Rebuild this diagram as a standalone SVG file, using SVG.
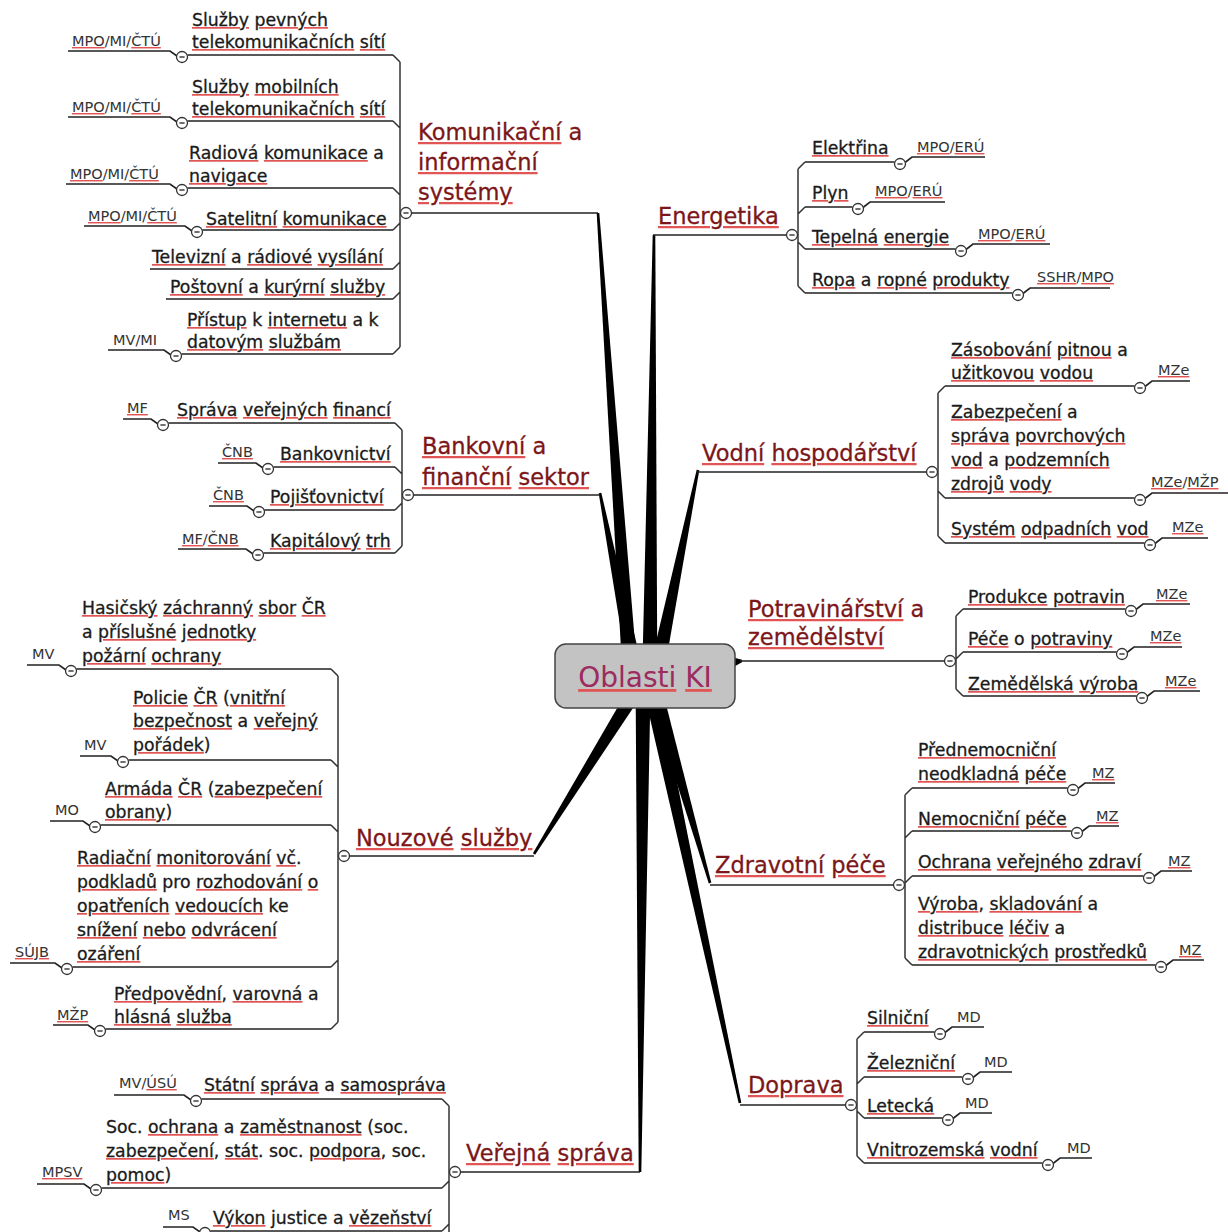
<svg xmlns="http://www.w3.org/2000/svg" width="1228" height="1232" viewBox="0 0 1228 1232">
<defs>
<style>
.t{font-family:"DejaVu Sans",sans-serif;font-size:17.3px;fill:#1a1a1a;stroke:#1a1a1a;stroke-width:0.3}
.mt{font-family:"DejaVu Sans",sans-serif;font-size:22.5px;fill:#7c1619;stroke:#7c1619;stroke-width:0.3}
.lb{font-family:"DejaVu Sans",sans-serif;font-size:14.5px;fill:#333}
.ctr{font-family:"DejaVu Sans",sans-serif;font-size:28px;fill:#9c2b5f}
.s{fill:#e25555;stroke:none;text-decoration:underline;text-decoration-thickness:2px;text-underline-offset:3px}
.t .s tspan{fill:#1a1a1a;stroke:#1a1a1a}
.mt .s tspan{fill:#7c1619;stroke:#7c1619}
.lb .s tspan{fill:#333}
.ctr .s tspan{fill:#9c2b5f}
.u{fill:none;stroke:#222;stroke-width:1.6}
.c{fill:none;stroke:#333;stroke-width:1.5}
.spoke{fill:#000}
</style>
<g id="mk"><circle r="5.5" fill="#fff" stroke="#333" stroke-width="1.3"/><path d="M-2.6 0h5.2" stroke="#333" stroke-width="1.4"/></g>
</defs>
<rect width="1228" height="1232" fill="#fff"/>

<!-- connectors: tapered spokes from the centre and sub-branch brackets -->
<g id="connectors">
  <polygon class="spoke" points="637.2,669.5 599.3,212.9 596.7,213.1 622.2,670.5"/>
  <polygon class="spoke" points="657.3,670.1 655.3,235 652.7,235 642.3,669.9"/>
  <polygon class="spoke" points="642.4,668.5 601.3,492.7 598.7,493.3 627.6,671.5"/>
  <polygon class="spoke" points="664.3,671.5 699.3,470.3 696.7,469.7 649.7,668.5"/>
  <polygon class="spoke" points="728,656 742,659.8 742,662.2 728,670"/>
  <polygon class="spoke" points="632.9,681 532.9,853.3 535.1,854.7 645.7,689"/>
  <polygon class="spoke" points="646.2,687.1 708.8,883.4 711.3,882.6 660.6,682.9"/>
  <polygon class="spoke" points="642.7,686.6 738.7,1103.3 741.3,1102.7 657.3,683.4"/>
  <polygon class="spoke" points="635.6,685 638.7,1172 641.3,1172 650.6,685"/>

  <path class="c" d="M400 62V347M393 55L400 62M393 121L400 128M393 188L400 195M393 230L400 223M393 269L400 262M393 299L400 292M393 354L400 347"/>
  <path class="c" d="M798 169V286M798 169L805 162M798 214L805 207M798 242L805 249M798 286L805 293"/>
  <path class="c" d="M402 430V546M395 423L402 430M395 467L402 474M395 510L402 503M395 553L402 546"/>
  <path class="c" d="M938 393V536M938 393L945 386M938 491L945 498M938 536L945 543"/>
  <path class="c" d="M956 616V689M956 616L963 609M956 659L963 652M956 689L963 696"/>
  <path class="c" d="M338 676V1022M331 669L338 676M331 760L338 767M331 825L338 832M331 967L338 960M331 1029L338 1022"/>
  <path class="c" d="M905 795V958M905 795L912 788M905 838L912 831M905 883L912 876M905 958L912 965"/>
  <path class="c" d="M857 1039V1156M857 1039L864 1032M857 1084L864 1077M857 1111L864 1118M857 1156L864 1163"/>
  <path class="c" d="M449 1106V1240M442 1099L449 1106M442 1188L449 1181M442 1231L449 1224"/>
</g>

<!-- central node -->
<g id="oblasti-ki">
  <rect x="555" y="644" width="180" height="64" rx="11" fill="#c3c3c3" stroke="#444" stroke-width="1.5"/>
  <text class="ctr" x="645" y="687" text-anchor="middle"><tspan class="s"><tspan>Oblasti</tspan></tspan> <tspan class="s"><tspan>KI</tspan></tspan></text>
</g>

<!-- Komunikační a informační systémy -->
<g id="komunikacni">
  <text class="mt" x="418" y="140"><tspan class="s"><tspan>Komunikační</tspan></tspan> a</text>
  <text class="mt" x="418" y="170"><tspan class="s"><tspan>informační</tspan></tspan></text>
  <text class="mt" x="418" y="200"><tspan class="s"><tspan>systémy</tspan></tspan></text>
  <path class="u" d="M411.5 213H598"/>
  <use href="#mk" x="406" y="213"/>
  <g id="k-pevne">
    <text class="t" x="192" y="26"><tspan class="s"><tspan>Služby</tspan></tspan> <tspan class="s"><tspan>pevných</tspan></tspan></text>
    <text class="t" x="192" y="48"><tspan class="s"><tspan>telekomunikačních</tspan></tspan> <tspan class="s"><tspan>sítí</tspan></tspan></text>
    <path class="u" d="M187.5 55H393M68 51H170L177 56"/>
    <use href="#mk" x="182" y="57"/>
    <text class="lb" x="72" y="46"><tspan class="s"><tspan>MPO</tspan></tspan>/MI/<tspan class="s"><tspan>ČTÚ</tspan></tspan></text>
  </g>
  <g id="k-mobilni">
    <text class="t" x="192" y="93"><tspan class="s"><tspan>Služby</tspan></tspan> <tspan class="s"><tspan>mobilních</tspan></tspan></text>
    <text class="t" x="192" y="115"><tspan class="s"><tspan>telekomunikačních</tspan></tspan> <tspan class="s"><tspan>sítí</tspan></tspan></text>
    <path class="u" d="M187.5 121H393M68 117H170L177 122"/>
    <use href="#mk" x="182" y="123"/>
    <text class="lb" x="72" y="112"><tspan class="s"><tspan>MPO</tspan></tspan>/MI/<tspan class="s"><tspan>ČTÚ</tspan></tspan></text>
  </g>
  <g id="k-radio">
    <text class="t" x="189" y="159"><tspan class="s"><tspan>Radiová</tspan></tspan> <tspan class="s"><tspan>komunikace</tspan></tspan> a</text>
    <text class="t" x="189" y="182"><tspan class="s"><tspan>navigace</tspan></tspan></text>
    <path class="u" d="M187.5 188H393M66 184H170L177 189"/>
    <use href="#mk" x="182" y="190"/>
    <text class="lb" x="70" y="179"><tspan class="s"><tspan>MPO</tspan></tspan>/MI/<tspan class="s"><tspan>ČTÚ</tspan></tspan></text>
  </g>
  <g id="k-satelit">
    <text class="t" x="206" y="225"><tspan class="s"><tspan>Satelitní</tspan></tspan> <tspan class="s"><tspan>komunikace</tspan></tspan></text>
    <path class="u" d="M202.5 230H393M84 226H185L192 231"/>
    <use href="#mk" x="197" y="232"/>
    <text class="lb" x="88" y="221"><tspan class="s"><tspan>MPO</tspan></tspan>/MI/<tspan class="s"><tspan>ČTÚ</tspan></tspan></text>
  </g>
  <g id="k-televize">
    <text class="t" x="152" y="263"><tspan class="s"><tspan>Televizní</tspan></tspan> a <tspan class="s"><tspan>rádiové</tspan></tspan> <tspan class="s"><tspan>vysílání</tspan></tspan></text>
    <path class="u" d="M150 269H393"/>
  </g>
  <g id="k-posta">
    <text class="t" x="170" y="293"><tspan class="s"><tspan>Poštovní</tspan></tspan> a <tspan class="s"><tspan>kurýrní</tspan></tspan> <tspan class="s"><tspan>služby</tspan></tspan></text>
    <path class="u" d="M166 299H393"/>
  </g>
  <g id="k-internet">
    <text class="t" x="187" y="326"><tspan class="s"><tspan>Přístup</tspan></tspan> k <tspan class="s"><tspan>internetu</tspan></tspan> a k</text>
    <text class="t" x="187" y="348"><tspan class="s"><tspan>datovým</tspan></tspan> <tspan class="s"><tspan>službám</tspan></tspan></text>
    <path class="u" d="M181.5 354H393M108 350H164L171 355"/>
    <use href="#mk" x="176" y="356"/>
    <text class="lb" x="113" y="345">MV/MI</text>
  </g>
</g>

<!-- Energetika -->
<g id="energetika">
  <text class="mt" x="658" y="224"><tspan class="s"><tspan>Energetika</tspan></tspan></text>
  <path class="u" d="M653 235H786.5"/>
  <use href="#mk" x="792" y="235"/>
  <g id="e-elektrina">
    <text class="t" x="812" y="154"><tspan class="s"><tspan>Elektřina</tspan></tspan></text>
    <path class="u" d="M805 162H894.5M905 162.5L912 157H985"/>
    <use href="#mk" x="900" y="164"/>
    <text class="lb" x="917" y="152"><tspan class="s"><tspan>MPO</tspan></tspan>/<tspan class="s"><tspan>ERÚ</tspan></tspan></text>
  </g>
  <g id="e-plyn">
    <text class="t" x="812" y="199"><tspan class="s"><tspan>Plyn</tspan></tspan></text>
    <path class="u" d="M805 207H852.5M863 207.5L870 202H945"/>
    <use href="#mk" x="858" y="209"/>
    <text class="lb" x="875" y="196"><tspan class="s"><tspan>MPO</tspan></tspan>/<tspan class="s"><tspan>ERÚ</tspan></tspan></text>
  </g>
  <g id="e-teplo">
    <text class="t" x="812" y="243"><tspan class="s"><tspan>Tepelná</tspan></tspan> <tspan class="s"><tspan>energie</tspan></tspan></text>
    <path class="u" d="M805 249H955.5M966 249.5L973 244H1050"/>
    <use href="#mk" x="961" y="251"/>
    <text class="lb" x="978" y="239"><tspan class="s"><tspan>MPO</tspan></tspan>/<tspan class="s"><tspan>ERÚ</tspan></tspan></text>
  </g>
  <g id="e-ropa">
    <text class="t" x="812" y="286"><tspan class="s"><tspan>Ropa</tspan></tspan> a <tspan class="s"><tspan>ropné</tspan></tspan> <tspan class="s"><tspan>produkty</tspan></tspan></text>
    <path class="u" d="M805 293H1012.5M1023 293.5L1030 288H1110"/>
    <use href="#mk" x="1018" y="295"/>
    <text class="lb" x="1037" y="282"><tspan class="s"><tspan>SSHR</tspan></tspan>/<tspan class="s"><tspan>MPO</tspan></tspan></text>
  </g>
</g>

<!-- Bankovní a finanční sektor -->
<g id="bankovni">
  <text class="mt" x="422" y="454"><tspan class="s"><tspan>Bankovní</tspan></tspan> a</text>
  <text class="mt" x="422" y="485"><tspan class="s"><tspan>finanční</tspan></tspan> <tspan class="s"><tspan>sektor</tspan></tspan></text>
  <path class="u" d="M413.5 495H600"/>
  <use href="#mk" x="408" y="495"/>
  <g id="b-verejne">
    <text class="t" x="177" y="416"><tspan class="s"><tspan>Správa</tspan></tspan> <tspan class="s"><tspan>veřejných</tspan></tspan> <tspan class="s"><tspan>financí</tspan></tspan></text>
    <path class="u" d="M168.5 423H395M123 419H151L158 424"/>
    <use href="#mk" x="163" y="425"/>
    <text class="lb" x="127" y="413"><tspan class="s"><tspan>MF</tspan></tspan></text>
  </g>
  <g id="b-bankovnictvi">
    <text class="t" x="280" y="460"><tspan class="s"><tspan>Bankovnictví</tspan></tspan></text>
    <path class="u" d="M273.5 467H395M218 463H256L263 468"/>
    <use href="#mk" x="268" y="469"/>
    <text class="lb" x="222" y="457"><tspan class="s"><tspan>ČNB</tspan></tspan></text>
  </g>
  <g id="b-pojistovnictvi">
    <text class="t" x="270" y="503"><tspan class="s"><tspan>Pojišťovnictví</tspan></tspan></text>
    <path class="u" d="M264.5 510H395M209 506H247L254 511"/>
    <use href="#mk" x="259" y="512"/>
    <text class="lb" x="213" y="500"><tspan class="s"><tspan>ČNB</tspan></tspan></text>
  </g>
  <g id="b-kapital">
    <text class="t" x="270" y="547"><tspan class="s"><tspan>Kapitálový</tspan></tspan> <tspan class="s"><tspan>trh</tspan></tspan></text>
    <path class="u" d="M263.5 553H395M178 549H246L253 554"/>
    <use href="#mk" x="258" y="555"/>
    <text class="lb" x="182" y="544"><tspan class="s"><tspan>MF</tspan></tspan>/<tspan class="s"><tspan>ČNB</tspan></tspan></text>
  </g>
</g>

<!-- Vodní hospodářství -->
<g id="vodni">
  <text class="mt" x="702" y="461"><tspan class="s"><tspan>Vodní</tspan></tspan> <tspan class="s"><tspan>hospodářství</tspan></tspan></text>
  <path class="u" d="M697 472H926.5"/>
  <use href="#mk" x="932" y="472"/>
  <g id="v-zasobovani">
    <text class="t" x="951" y="356"><tspan class="s"><tspan>Zásobování</tspan></tspan> <tspan class="s"><tspan>pitnou</tspan></tspan> a</text>
    <text class="t" x="951" y="379"><tspan class="s"><tspan>užitkovou</tspan></tspan> <tspan class="s"><tspan>vodou</tspan></tspan></text>
    <path class="u" d="M945 386H1134.5M1145 386.5L1152 381H1190"/>
    <use href="#mk" x="1140" y="388"/>
    <text class="lb" x="1158" y="375"><tspan class="s"><tspan>MZe</tspan></tspan></text>
  </g>
  <g id="v-zabezpeceni">
    <text class="t" x="951" y="418"><tspan class="s"><tspan>Zabezpečení</tspan></tspan> a</text>
    <text class="t" x="951" y="442"><tspan class="s"><tspan>správa</tspan></tspan> <tspan class="s"><tspan>povrchových</tspan></tspan></text>
    <text class="t" x="951" y="466"><tspan class="s"><tspan>vod</tspan></tspan> a <tspan class="s"><tspan>podzemních</tspan></tspan></text>
    <text class="t" x="951" y="490"><tspan class="s"><tspan>zdrojů</tspan></tspan> <tspan class="s"><tspan>vody</tspan></tspan></text>
    <path class="u" d="M945 498H1134.5M1145 498.5L1152 493H1228"/>
    <use href="#mk" x="1140" y="500"/>
    <text class="lb" x="1151" y="487"><tspan class="s"><tspan>MZe</tspan></tspan>/<tspan class="s"><tspan>MŽP</tspan></tspan></text>
  </g>
  <g id="v-odpadni">
    <text class="t" x="951" y="535"><tspan class="s"><tspan>Systém</tspan></tspan> <tspan class="s"><tspan>odpadních</tspan></tspan> <tspan class="s"><tspan>vod</tspan></tspan></text>
    <path class="u" d="M945 543H1144.5M1155 543.5L1162 538H1208"/>
    <use href="#mk" x="1150" y="545"/>
    <text class="lb" x="1172" y="532"><tspan class="s"><tspan>MZe</tspan></tspan></text>
  </g>
</g>

<!-- Potravinářství a zemědělství -->
<g id="potravinarstvi">
  <text class="mt" x="748" y="617"><tspan class="s"><tspan>Potravinářství</tspan></tspan> a</text>
  <text class="mt" x="748" y="645"><tspan class="s"><tspan>zemědělství</tspan></tspan></text>
  <path class="u" d="M740 661H944.5"/>
  <use href="#mk" x="950" y="661"/>
  <g id="p-produkce">
    <text class="t" x="968" y="603"><tspan class="s"><tspan>Produkce</tspan></tspan> <tspan class="s"><tspan>potravin</tspan></tspan></text>
    <path class="u" d="M963 609H1125.5M1136 609.5L1143 604H1190"/>
    <use href="#mk" x="1131" y="611"/>
    <text class="lb" x="1156" y="599"><tspan class="s"><tspan>MZe</tspan></tspan></text>
  </g>
  <g id="p-pece">
    <text class="t" x="968" y="645"><tspan class="s"><tspan>Péče</tspan></tspan> o <tspan class="s"><tspan>potraviny</tspan></tspan></text>
    <path class="u" d="M963 652H1116.5M1127 652.5L1134 647H1182"/>
    <use href="#mk" x="1122" y="654"/>
    <text class="lb" x="1150" y="641"><tspan class="s"><tspan>MZe</tspan></tspan></text>
  </g>
  <g id="p-vyroba">
    <text class="t" x="968" y="690"><tspan class="s"><tspan>Zemědělská</tspan></tspan> <tspan class="s"><tspan>výroba</tspan></tspan></text>
    <path class="u" d="M963 696H1136.5M1147 696.5L1154 691H1200"/>
    <use href="#mk" x="1142" y="698"/>
    <text class="lb" x="1165" y="686"><tspan class="s"><tspan>MZe</tspan></tspan></text>
  </g>
</g>

<!-- Nouzové služby -->
<g id="nouzove">
  <text class="mt" x="356" y="846"><tspan class="s"><tspan>Nouzové</tspan></tspan> <tspan class="s"><tspan>služby</tspan></tspan></text>
  <path class="u" d="M349.5 856H534"/>
  <use href="#mk" x="344" y="856"/>
  <g id="n-hasici">
    <text class="t" x="82" y="614"><tspan class="s"><tspan>Hasičský</tspan></tspan> <tspan class="s"><tspan>záchranný</tspan></tspan> <tspan class="s"><tspan>sbor</tspan></tspan> <tspan class="s"><tspan>ČR</tspan></tspan></text>
    <text class="t" x="82" y="638">a <tspan class="s"><tspan>příslušné</tspan></tspan> <tspan class="s"><tspan>jednotky</tspan></tspan></text>
    <text class="t" x="82" y="662"><tspan class="s"><tspan>požární</tspan></tspan> <tspan class="s"><tspan>ochrany</tspan></tspan></text>
    <path class="u" d="M76.5 669H331M27 665H59L66 670"/>
    <use href="#mk" x="71" y="671"/>
    <text class="lb" x="32" y="659">MV</text>
  </g>
  <g id="n-policie">
    <text class="t" x="133" y="704"><tspan class="s"><tspan>Policie</tspan></tspan> <tspan class="s"><tspan>ČR</tspan></tspan> (<tspan class="s"><tspan>vnitřní</tspan></tspan></text>
    <text class="t" x="133" y="727"><tspan class="s"><tspan>bezpečnost</tspan></tspan> a <tspan class="s"><tspan>veřejný</tspan></tspan></text>
    <text class="t" x="133" y="751"><tspan class="s"><tspan>pořádek</tspan></tspan>)</text>
    <path class="u" d="M128.5 760H331M80 756H111L118 761"/>
    <use href="#mk" x="123" y="762"/>
    <text class="lb" x="84" y="750">MV</text>
  </g>
  <g id="n-armada">
    <text class="t" x="105" y="795"><tspan class="s"><tspan>Armáda</tspan></tspan> <tspan class="s"><tspan>ČR</tspan></tspan> (<tspan class="s"><tspan>zabezpečení</tspan></tspan></text>
    <text class="t" x="105" y="818"><tspan class="s"><tspan>obrany</tspan></tspan>)</text>
    <path class="u" d="M100.5 825H331M50 821H83L90 826"/>
    <use href="#mk" x="95" y="827"/>
    <text class="lb" x="55" y="815">MO</text>
  </g>
  <g id="n-radiace">
    <text class="t" x="77" y="864"><tspan class="s"><tspan>Radiační</tspan></tspan> <tspan class="s"><tspan>monitorování</tspan></tspan> <tspan class="s"><tspan>vč</tspan></tspan>.</text>
    <text class="t" x="77" y="888"><tspan class="s"><tspan>podkladů</tspan></tspan> pro <tspan class="s"><tspan>rozhodování</tspan></tspan> <tspan class="s"><tspan>o</tspan></tspan></text>
    <text class="t" x="77" y="912"><tspan class="s"><tspan>opatřeních</tspan></tspan> <tspan class="s"><tspan>vedoucích</tspan></tspan> ke</text>
    <text class="t" x="77" y="936"><tspan class="s"><tspan>snížení</tspan></tspan> <tspan class="s"><tspan>nebo</tspan></tspan> <tspan class="s"><tspan>odvrácení</tspan></tspan></text>
    <text class="t" x="77" y="960"><tspan class="s"><tspan>ozáření</tspan></tspan></text>
    <path class="u" d="M72.5 967H331M10 963H55L62 968"/>
    <use href="#mk" x="67" y="969"/>
    <text class="lb" x="15" y="957"><tspan class="s"><tspan>SÚJB</tspan></tspan></text>
  </g>
  <g id="n-predpovedi">
    <text class="t" x="114" y="1000"><tspan class="s"><tspan>Předpovědní</tspan></tspan>, <tspan class="s"><tspan>varovná</tspan></tspan> a</text>
    <text class="t" x="114" y="1023"><tspan class="s"><tspan>hlásná</tspan></tspan> <tspan class="s"><tspan>služba</tspan></tspan></text>
    <path class="u" d="M105.5 1029H331M53 1025H88L95 1030"/>
    <use href="#mk" x="100" y="1031"/>
    <text class="lb" x="57" y="1020"><tspan class="s"><tspan>MŽP</tspan></tspan></text>
  </g>
</g>

<!-- Zdravotní péče -->
<g id="zdravotni">
  <text class="mt" x="715" y="873"><tspan class="s"><tspan>Zdravotní</tspan></tspan> <tspan class="s"><tspan>péče</tspan></tspan></text>
  <path class="u" d="M710 885H893.5"/>
  <use href="#mk" x="899" y="885"/>
  <g id="z-prednemocnicni">
    <text class="t" x="918" y="756"><tspan class="s"><tspan>Přednemocniční</tspan></tspan></text>
    <text class="t" x="918" y="780"><tspan class="s"><tspan>neodkladná</tspan></tspan> <tspan class="s"><tspan>péče</tspan></tspan></text>
    <path class="u" d="M912 788H1067.5M1078 788.5L1085 783H1115"/>
    <use href="#mk" x="1073" y="790"/>
    <text class="lb" x="1092" y="778"><tspan class="s"><tspan>MZ</tspan></tspan></text>
  </g>
  <g id="z-nemocnicni">
    <text class="t" x="918" y="825"><tspan class="s"><tspan>Nemocniční</tspan></tspan> <tspan class="s"><tspan>péče</tspan></tspan></text>
    <path class="u" d="M912 831H1071.5M1082 831.5L1089 826H1119"/>
    <use href="#mk" x="1077" y="833"/>
    <text class="lb" x="1096" y="821"><tspan class="s"><tspan>MZ</tspan></tspan></text>
  </g>
  <g id="z-ochrana">
    <text class="t" x="918" y="868"><tspan class="s"><tspan>Ochrana</tspan></tspan> <tspan class="s"><tspan>veřejného</tspan></tspan> <tspan class="s"><tspan>zdraví</tspan></tspan></text>
    <path class="u" d="M912 876H1143.5M1154 876.5L1161 871H1192"/>
    <use href="#mk" x="1149" y="878"/>
    <text class="lb" x="1168" y="866"><tspan class="s"><tspan>MZ</tspan></tspan></text>
  </g>
  <g id="z-leciva">
    <text class="t" x="918" y="910"><tspan class="s"><tspan>Výroba</tspan></tspan>, <tspan class="s"><tspan>skladování</tspan></tspan> a</text>
    <text class="t" x="918" y="934"><tspan class="s"><tspan>distribuce</tspan></tspan> <tspan class="s"><tspan>léčiv</tspan></tspan> a</text>
    <text class="t" x="918" y="958"><tspan class="s"><tspan>zdravotnických</tspan></tspan> <tspan class="s"><tspan>prostředků</tspan></tspan></text>
    <path class="u" d="M912 965H1155.5M1166 965.5L1173 960H1204"/>
    <use href="#mk" x="1161" y="967"/>
    <text class="lb" x="1179" y="955"><tspan class="s"><tspan>MZ</tspan></tspan></text>
  </g>
</g>

<!-- Doprava -->
<g id="doprava">
  <text class="mt" x="748" y="1093"><tspan class="s"><tspan>Doprava</tspan></tspan></text>
  <path class="u" d="M740 1105H845.5"/>
  <use href="#mk" x="851" y="1105"/>
  <g id="d-silnicni">
    <text class="t" x="867" y="1024"><tspan class="s"><tspan>Silniční</tspan></tspan></text>
    <path class="u" d="M864 1032H934.5M945 1032.5L952 1027H984"/>
    <use href="#mk" x="940" y="1034"/>
    <text class="lb" x="957" y="1022">MD</text>
  </g>
  <g id="d-zeleznicni">
    <text class="t" x="867" y="1069"><tspan class="s"><tspan>Železniční</tspan></tspan></text>
    <path class="u" d="M864 1077H962.5M973 1077.5L980 1072H1012"/>
    <use href="#mk" x="968" y="1079"/>
    <text class="lb" x="984" y="1067">MD</text>
  </g>
  <g id="d-letecka">
    <text class="t" x="867" y="1112"><tspan class="s"><tspan>Letecká</tspan></tspan></text>
    <path class="u" d="M864 1118H942.5M953 1118.5L960 1113H992"/>
    <use href="#mk" x="948" y="1120"/>
    <text class="lb" x="965" y="1108">MD</text>
  </g>
  <g id="d-vodni">
    <text class="t" x="867" y="1156"><tspan class="s"><tspan>Vnitrozemská</tspan></tspan> <tspan class="s"><tspan>vodní</tspan></tspan></text>
    <path class="u" d="M864 1163H1042.5M1053 1163.5L1060 1158H1092"/>
    <use href="#mk" x="1048" y="1165"/>
    <text class="lb" x="1067" y="1153">MD</text>
  </g>
</g>

<!-- Veřejná správa -->
<g id="verejna-sprava">
  <text class="mt" x="466" y="1161"><tspan class="s"><tspan>Veřejná</tspan></tspan> <tspan class="s"><tspan>správa</tspan></tspan></text>
  <path class="u" d="M460.5 1172H640"/>
  <use href="#mk" x="455" y="1172"/>
  <g id="w-statni">
    <text class="t" x="204" y="1091"><tspan class="s"><tspan>Státní</tspan></tspan> <tspan class="s"><tspan>správa</tspan></tspan> a <tspan class="s"><tspan>samospráva</tspan></tspan></text>
    <path class="u" d="M201.5 1099H442M114 1095H184L191 1100"/>
    <use href="#mk" x="196" y="1101"/>
    <text class="lb" x="119" y="1088">MV/<tspan class="s"><tspan>ÚSÚ</tspan></tspan></text>
  </g>
  <g id="w-socialni">
    <text class="t" x="106" y="1133">Soc. <tspan class="s"><tspan>ochrana</tspan></tspan> a <tspan class="s"><tspan>zaměstnanost</tspan></tspan> (soc.</text>
    <text class="t" x="106" y="1157"><tspan class="s"><tspan>zabezpečení</tspan></tspan>, <tspan class="s"><tspan>stát</tspan></tspan>. soc. <tspan class="s"><tspan>podpora</tspan></tspan>, soc.</text>
    <text class="t" x="106" y="1181"><tspan class="s"><tspan>pomoc</tspan></tspan>)</text>
    <path class="u" d="M101.5 1188H442M37 1184H84L91 1189"/>
    <use href="#mk" x="96" y="1190"/>
    <text class="lb" x="42" y="1177"><tspan class="s"><tspan>MPSV</tspan></tspan></text>
  </g>
  <g id="w-justice">
    <text class="t" x="213" y="1224"><tspan class="s"><tspan>Výkon</tspan></tspan> justice a <tspan class="s"><tspan>vězeňství</tspan></tspan></text>
    <path class="u" d="M210.5 1231H442M163 1227H193L200 1232"/>
    <use href="#mk" x="205" y="1233"/>
    <text class="lb" x="168" y="1220">MS</text>
  </g>
</g>
</svg>
